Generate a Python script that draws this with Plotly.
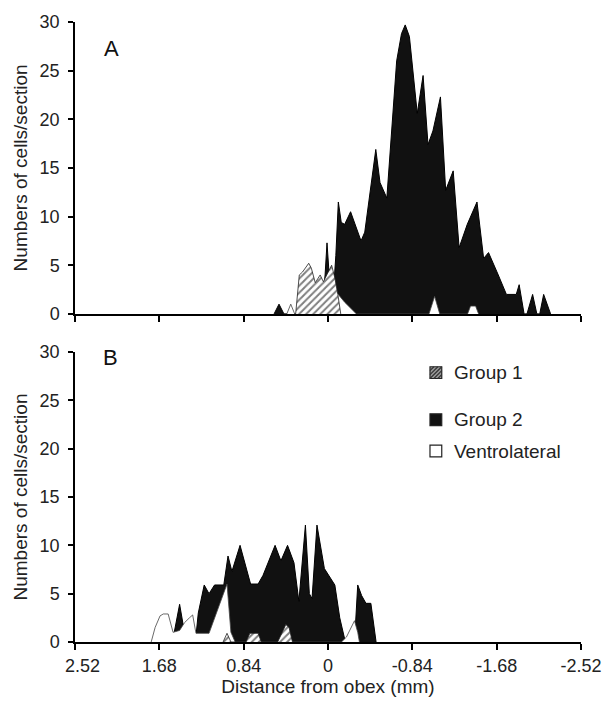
import plotly.graph_objects as go

# ---------------- data (distance from obex in mm, cells/section) ----------------
ticks_mm = [2.52, 1.68, 0.84, 0, -0.84, -1.68, -2.52]
tick_text = ["\u00a0\u00a0\u00a02.52", "1.68", "0.84", "0", "-0.84", "-1.68", "-2.52"]
y_ticks = [0, 5, 10, 15, 20, 25, 30]
series_names = ["Group 1", "Group 2", "Ventrolateral"]

# Panel A
A_g2_x = [0.537, 0.488, 0.439, 0.068, 0.029, 0.010, -0.015, -0.059, -0.078, -0.103, -0.132,
          -0.166, -0.225, -0.329, -0.366, -0.476, -0.518, -0.586, -0.684, -0.732, -0.769,
          -0.811, -0.889, -0.947, -0.996, -1.045, -1.120, -1.172, -1.247, -1.306, -1.387,
          -1.484, -1.550, -1.599, -1.696, -1.777, -1.875, -1.904, -1.953, -1.982, -2.038,
          -2.080, -2.109, -2.148, -2.217]
A_g2_y = [0, 1.0, 0, 0, 4.0, 7.3, 3.5, 3.0, 6.0, 11.5, 9.4,
          9.2, 10.5, 7.5, 8.4, 16.9, 13.5, 11.9, 26.0, 28.8, 29.7,
          28.5, 20.6, 24.5, 17.4, 18.8, 22.3, 12.7, 14.7, 6.8, 9.2,
          11.5, 5.7, 6.3, 4.0, 2.0, 2.0, 3.0, 0, 0, 2.0,
          0, 0, 2.0, 0]

A_vl_x = [0.410, 0.371, 0.332, -0.029, -0.078, -0.166, -0.283, -1.006, -1.062, -1.113,
          -1.390, -1.420, -1.470, -1.500]
A_vl_y = [0, 1.0, 0, 1.5, 2.3, 1.2, 0, 0, 1.8, 0,
          0, 0.8, 0.8, 0]

A_g1_x = [0.322, 0.286, 0.254, 0.192, 0.166, 0.127, 0.078, 0.046, -0.036, -0.068, -0.098, -0.127]
A_g1_y = [0, 4.0, 4.3, 5.2, 4.7, 3.2, 4.0, 3.3, 5.0, 3.7, 2.0, 0]

# Panel B
B_g2_x = [1.550, 1.478, 1.413, 1.321, 1.292, 1.233, 1.185, 1.130, 1.038, 0.996, 0.957,
          0.876, 0.771, 0.696, 0.647, 0.527, 0.469, 0.403, 0.339, 0.290, 0.225, 0.186,
          0.159, 0.110, 0.036, -0.010, -0.068, -0.117, -0.150, -0.173, -0.264, -0.296,
          -0.335, -0.378, -0.427, -0.479]
B_g2_y = [0, 3.9, 0, 0, 3.0, 5.9, 5.0, 5.9, 5.9, 8.9, 7.3,
          10.0, 6.0, 6.0, 6.9, 10.0, 8.4, 10.0, 8.2, 4.2, 12.1, 5.0,
          4.5, 12.1, 7.6, 6.9, 5.9, 2.5, 0.8, 0, 0, 5.9,
          4.8, 4.0, 4.0, 0]

B_vl_x = [1.761, 1.722, 1.673, 1.641, 1.592, 1.543, 1.478, 1.429, 1.380, 1.348, 1.315,
          1.185, 1.006, 0.967, 0.925, -0.134, -0.183, -0.264, -0.296, -0.313]
B_vl_y = [0, 1.5, 2.7, 2.9, 2.9, 1.0, 1.2, 2.0, 2.5, 2.8, 0.9,
          0.9, 6.0, 1.0, 0, 0, 0.5, 2.2, 1.0, 0]

B_g1_x = [1.045, 1.006, 0.967, 0.817, 0.778, 0.696, 0.664, 0.501, 0.420, 0.388, 0.354]
B_g1_y = [0, 0.9, 0, 0, 0.9, 0.9, 0, 0, 1.8, 1.5, 0]

# ---------------- figure ----------------
FONT = "Liberation Sans, Arial, sans-serif"
W, H = 614, 706
ML, MR, MT, MB = 75, 23, 15, 58
PW, PH = W - ML - MR, H - MT - MB


def px2paper_x(px):
    return (px - ML) / PW


def px2paper_y(py):
    return (H - MB - py) / PH


hatch = dict(shape="/", size=5, solidity=0.4, fgcolor="black", bgcolor="white")

fig = go.Figure()

for xa, ya, g1x, g1y, g2x, g2y, vlx, vly in [
    ("x", "y", A_g1_x, A_g1_y, A_g2_x, A_g2_y, A_vl_x, A_vl_y),
    ("x2", "y2", B_g1_x, B_g1_y, B_g2_x, B_g2_y, B_vl_x, B_vl_y),
]:
    fig.add_trace(go.Scatter(x=g2x, y=g2y, xaxis=xa, yaxis=ya, mode="lines", fill="tozeroy",
                             fillcolor="#111111", line=dict(color="black", width=1),
                             name=series_names[1], showlegend=False))
    fig.add_trace(go.Scatter(x=vlx, y=vly, xaxis=xa, yaxis=ya, mode="lines", fill="tozeroy",
                             fillcolor="white", line=dict(color="#444444", width=0.8),
                             name=series_names[2], showlegend=False))
    fig.add_trace(go.Scatter(x=g1x, y=g1y, xaxis=xa, yaxis=ya, mode="lines", fill="tozeroy",
                             fillpattern=hatch, line=dict(color="#222222", width=0.8),
                             name=series_names[0], showlegend=False))

yA_dom = [px2paper_y(313), 1.0]
yB_dom = [0.0, px2paper_y(352)]

xcommon = dict(range=[2.52, -2.52], tickvals=ticks_mm, ticktext=tick_text,
               showline=True, linecolor="black", linewidth=2, ticks="outside",
               ticklen=6, tickwidth=2, tickcolor="black", showgrid=False, zeroline=False,
               tickfont=dict(family=FONT, size=18, color="#222"))
ycommon = dict(range=[0, 30], tickvals=y_ticks, showline=True, linecolor="black",
               linewidth=1.5, ticks="outside", ticklen=5, tickwidth=1.5, tickcolor="black",
               showgrid=False, zeroline=False, ticklabelstandoff=5,
               tickfont=dict(family=FONT, size=18, color="#222"),
               title=dict(text="Numbers of cells/section", standoff=7,
                          font=dict(family=FONT, size=19, color="#222")))
yinner = dict(range=[0, 30], tickvals=y_ticks, showline=False, ticks="inside",
              ticklen=5, tickwidth=1.5, tickcolor="black", showticklabels=False,
              showgrid=False, zeroline=False, side="left")

fig.update_layout(
    width=W, height=H,
    margin=dict(l=ML, r=MR, t=MT, b=MB),
    paper_bgcolor="white", plot_bgcolor="white",
    showlegend=False,
    xaxis=dict(xcommon, domain=[0, 1], anchor="y", showticklabels=False),
    yaxis=dict(ycommon, domain=yA_dom, anchor="x"),
    xaxis2=dict(xcommon, domain=[0, 1], anchor="y2",
                title=dict(text="Distance from obex (mm)", standoff=5,
                           font=dict(family=FONT, size=19, color="#222"))),
    yaxis2=dict(ycommon, domain=yB_dom, anchor="x2"),
    yaxis3=dict(yinner, overlaying="y", anchor="x", domain=yA_dom),
    yaxis4=dict(yinner, overlaying="y2", anchor="x2", domain=yB_dom),
)

# panel labels
fig.add_annotation(x=px2paper_x(103), y=px2paper_y(27), xref="paper", yref="paper",
                   text="A", showarrow=False, font=dict(family=FONT, size=22, color="#111"))
fig.add_annotation(x=px2paper_x(102), y=px2paper_y(358), xref="paper", yref="paper",
                   text="B", showarrow=False, font=dict(family=FONT, size=22, color="#111"))

# legend (panel B)
leg_rows = [373, 421, 453]
sq = 12
for name, row in zip(series_names, leg_rows):
    x0, x1 = px2paper_x(437), px2paper_x(437 + sq)
    y0, y1 = px2paper_y(row + sq / 2), px2paper_y(row - sq / 2)
    fill = {"Group 1": "#9a9a9a", "Group 2": "#111111", "Ventrolateral": "white"}[name]
    fig.add_shape(type="rect", xref="paper", yref="paper", x0=x0, x1=x1, y0=y0, y1=y1,
                  fillcolor=fill, line=dict(color="#222", width=1.2))
    if name == "Group 1":
        for k in range(-2, 3):
            off = k * 4
            a = max(0, off)
            b = min(sq, sq + off)
            fig.add_shape(type="line", xref="paper", yref="paper",
                          x0=px2paper_x(437 + a), y0=px2paper_y(row + sq / 2 - (a - off)),
                          x1=px2paper_x(437 + b), y1=px2paper_y(row + sq / 2 - (b - off)),
                          line=dict(color="#333", width=1.2))
    fig.add_annotation(x=px2paper_x(459), y=px2paper_y(row), xref="paper", yref="paper",
                       xanchor="left", yanchor="middle", text=name, showarrow=False,
                       font=dict(family=FONT, size=19, color="#222"))

fig.write_html("out.html")
